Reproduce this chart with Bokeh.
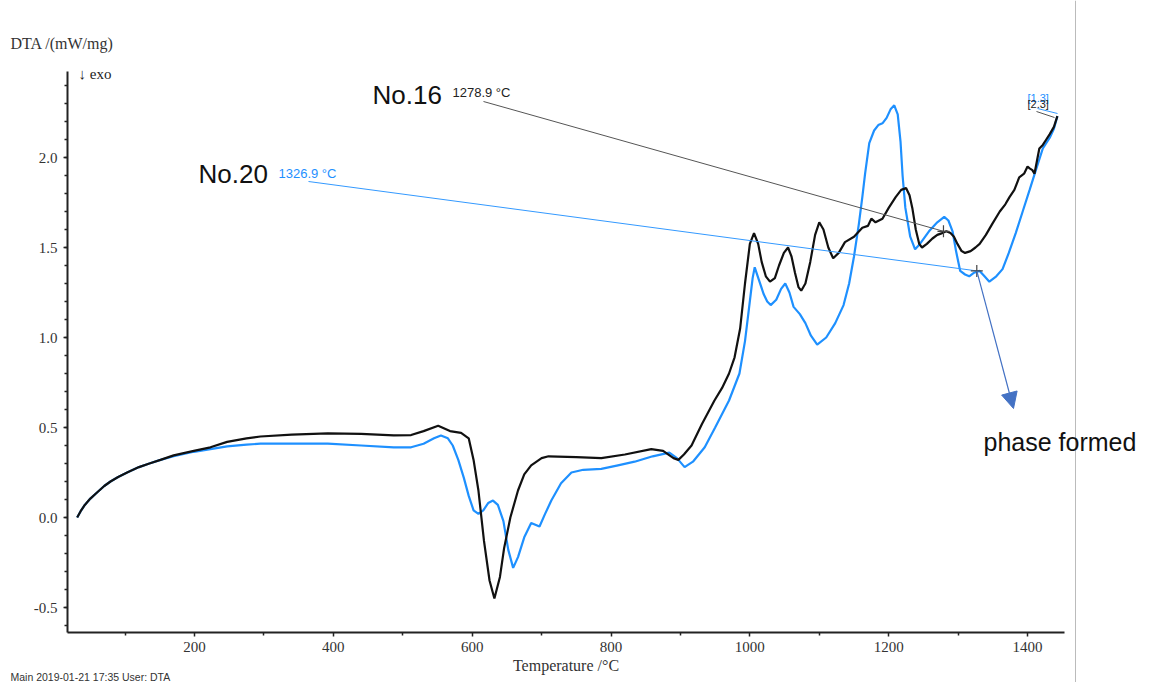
from bokeh.plotting import figure
from bokeh.models import (Range1d, Label, Arrow, NormalHead, FixedTicker, Span,
                          PrintfTickFormatter)
from bokeh.embed import file_html
from bokeh.resources import INLINE

t16 = [31, 36, 42, 50, 60, 70, 79, 90, 103, 120, 135, 151, 170, 199, 223, 247, 275, 295, 340,
       392, 440, 487, 512, 530, 551, 568, 584,
       595, 602, 609, 617, 625, 632, 640, 646, 655, 666, 675, 685, 700, 710, 750, 786, 820, 858,
       875, 890, 897, 905, 916, 931, 949, 960, 970, 978, 986, 993, 1000, 1006, 1012, 1017, 1023,
       1029, 1036, 1042, 1049, 1055, 1060, 1065, 1070, 1074, 1080, 1087, 1094, 1100, 1106, 1113,
       1120, 1128, 1137, 1150, 1162, 1170, 1175, 1181, 1191, 1200, 1210, 1218, 1225, 1230, 1234,
       1239, 1244, 1248, 1255, 1263, 1270, 1277, 1283, 1289, 1294, 1299, 1305, 1310, 1318, 1325,
       1331, 1340, 1349, 1360, 1368, 1374, 1381, 1388, 1395, 1400, 1403, 1407, 1410, 1414, 1417,
       1422, 1427, 1432, 1438, 1443]
dta16 = [0.00, 0.035, 0.07, 0.105, 0.14, 0.175, 0.20, 0.225, 0.25, 0.28, 0.30, 0.32, 0.345,
         0.37, 0.39, 0.42, 0.44, 0.45, 0.46, 0.467, 0.465, 0.456, 0.458,
         0.48, 0.51, 0.48, 0.47, 0.44, 0.32, 0.15, -0.13, -0.35, -0.45, -0.33, -0.17, 0.00, 0.15,
         0.24, 0.29, 0.33, 0.34, 0.335, 0.33, 0.35, 0.38, 0.37, 0.33, 0.32, 0.35, 0.40, 0.52, 0.65,
         0.72, 0.80, 0.89, 1.05, 1.30, 1.52, 1.58, 1.52, 1.42, 1.34, 1.31, 1.33, 1.40, 1.47, 1.50,
         1.45, 1.36, 1.28, 1.26, 1.30, 1.42, 1.57, 1.64, 1.60, 1.50, 1.44, 1.47, 1.53, 1.56, 1.61,
         1.62, 1.66, 1.64, 1.66, 1.72, 1.78, 1.82, 1.83, 1.79, 1.72, 1.60, 1.52, 1.50, 1.52, 1.55,
         1.57, 1.58, 1.59, 1.58, 1.56, 1.52, 1.48, 1.47, 1.48, 1.50, 1.52, 1.57, 1.63, 1.70, 1.74,
         1.78, 1.82, 1.89, 1.91, 1.95, 1.94, 1.93, 1.91, 1.99, 2.05, 2.07, 2.10, 2.13, 2.17, 2.23]

t20 = [31, 36, 42, 50, 60, 70, 79, 90, 103, 120, 135, 151, 170, 199, 223, 247, 275, 295, 340,
       392, 440, 487, 512, 530, 545, 555, 565,
       572, 580, 588, 595, 602, 609, 616, 623, 630, 637, 645, 652, 659, 666, 675, 685, 691, 697,
       705, 714, 728, 743, 760, 786, 810, 834, 860, 884, 895, 906, 918, 935, 950, 970, 985, 993,
       999, 1004, 1007, 1013, 1020, 1025, 1030, 1038, 1045, 1051, 1057, 1063, 1072, 1080, 1088,
       1097, 1110, 1123, 1135, 1143, 1150, 1157, 1162, 1166, 1172, 1179, 1185, 1191, 1197, 1203,
       1208, 1213, 1217, 1220, 1224, 1231, 1238, 1245, 1258, 1270, 1280, 1286, 1292, 1297, 1303,
       1310, 1316, 1323, 1331, 1338, 1345, 1355, 1364, 1373, 1383, 1393, 1403, 1412, 1422, 1432,
       1438, 1443]
dta20 = [0.00, 0.035, 0.07, 0.105, 0.14, 0.175, 0.20, 0.225, 0.25, 0.28, 0.30, 0.32, 0.34,
         0.365, 0.38, 0.395, 0.405, 0.41, 0.41, 0.41, 0.40, 0.39, 0.39,
         0.41, 0.44, 0.456, 0.44, 0.40, 0.32, 0.22, 0.12, 0.04, 0.02, 0.04, 0.08, 0.094, 0.07,
         -0.02, -0.18, -0.28, -0.22, -0.11, -0.03, -0.04, -0.05, 0.02, 0.094, 0.19, 0.25, 0.265,
         0.27, 0.29, 0.31, 0.34, 0.36, 0.33, 0.28, 0.31, 0.39, 0.50, 0.65, 0.80, 0.98, 1.17, 1.33,
         1.39, 1.32, 1.24, 1.20, 1.18, 1.21, 1.27, 1.30, 1.25, 1.17, 1.13, 1.08, 1.01, 0.96, 1.00,
         1.08, 1.18, 1.30, 1.45, 1.63, 1.78, 1.91, 2.08, 2.15, 2.18, 2.19, 2.22, 2.27, 2.29, 2.24,
         2.09, 1.90, 1.72, 1.56, 1.49, 1.52, 1.59, 1.64, 1.67, 1.65, 1.59, 1.48, 1.37, 1.35, 1.34,
         1.36, 1.37, 1.34, 1.31, 1.34, 1.38, 1.47, 1.58, 1.70, 1.82, 1.93, 2.05, 2.11, 2.16, 2.23]

x_ticks = [200, 400, 600, 800, 1000, 1200, 1400]
x_minor = [100, 300, 500, 700, 900, 1100, 1300]
y_ticks = [-0.5, 0.0, 0.5, 1.0, 1.5, 2.0]
x_axis_span = (17, 1453)
y_axis_span = (-0.64, 2.48)
peak16 = (1278.9, 1.59)
peak20 = (1326.9, 1.37)

# page-pixel helpers (annotation placement only)
def px_x(px):
    return 200 + (px - 194) / 0.6942

def px_y(py):
    return (517 - py) / 180.0

W, H = 1150, 682
p = figure(width=W, height=H, output_backend="svg", toolbar_location=None,
           x_range=Range1d(px_x(0), px_x(W)), y_range=Range1d(px_y(H), px_y(0)),
           min_border_left=0, min_border_right=0, min_border_top=0, min_border_bottom=0)
p.outline_line_color = None
p.xgrid.visible = False
p.ygrid.visible = False
p.background_fill_color = "white"
p.border_fill_color = "white"

SERIF = "Liberation Serif"
SANS = "Liberation Sans"

xa, ya = p.xaxis[0], p.yaxis[0]
xa.fixed_location = y_axis_span[0]
ya.fixed_location = x_axis_span[0]
xa.bounds = x_axis_span
ya.bounds = y_axis_span
for ax in (xa, ya):
    ax.axis_line_color = "#222222"
    ax.axis_line_width = 2
    ax.major_tick_line_color = "#222222"
    ax.minor_tick_line_color = "#222222"
    ax.major_tick_line_width = 1.5
    ax.minor_tick_line_width = 1.5
    ax.major_tick_in = 0
    ax.minor_tick_in = 0
    ax.major_tick_out = 4
    ax.minor_tick_out = 3
    ax.major_label_text_font = SERIF
    ax.major_label_text_font_size = "15px"
    ax.major_label_text_color = "#333333"

xa.ticker = FixedTicker(ticks=x_ticks, minor_ticks=x_minor)
ya.ticker = FixedTicker(ticks=y_ticks, minor_ticks=[round(-0.6 + 0.1 * i, 1) for i in range(31)])
ya.formatter = PrintfTickFormatter(format="%.1f")
xa.major_label_standoff = 5
ya.major_label_standoff = 6
xa.axis_label = "Temperature /°C"
xa.axis_label_text_font = SERIF
xa.axis_label_text_font_size = "16px"
xa.axis_label_text_font_style = "normal"
xa.axis_label_text_color = "#333333"
xa.axis_label_standoff = 2

# right-hand gray frame line
p.add_layout(Span(location=px_x(1075), dimension="height", line_color="#BBBBBB", line_width=1))

# curves
p.line(t20, dta20, line_color="#1E90FF", line_width=2.2)
p.line(t16, dta16, line_color="#111111", line_width=2.2)

# annotation leader lines
p.line([px_x(483), peak16[0]], [px_y(101), peak16[1]], line_color="#555555", line_width=1)
p.line([px_x(308), peak20[0]], [px_y(181), peak20[1]], line_color="#3399FF", line_width=1)
p.scatter([peak16[0], peak20[0]], [peak16[1], peak20[1]], marker="cross", size=12,
          line_color="#444444", line_width=1.2)

# small end markers
p.line([px_x(1037), px_x(1057)], [px_y(108), px_y(113)], line_color="#3399FF", line_width=1)
p.line([px_x(1036), px_x(1054)], [px_y(111), px_y(117)], line_color="#555555", line_width=1)

# arrow
p.add_layout(Arrow(end=NormalHead(size=16, fill_color="#4472C4", line_color="#4472C4"),
                   x_start=peak20[0], y_start=peak20[1], x_end=px_x(1013), y_end=px_y(408),
                   line_color="#4472C4", line_width=1.2))

def lab(text, px, py, font, size, color, align="left"):
    p.add_layout(Label(x=px_x(px), y=px_y(py), text=text, text_font=font,
                       text_font_size=size, text_color=color, text_align=align,
                       text_baseline="middle"))

lab("DTA /(mW/mg)", 10, 43, SERIF, "16px", "#333333")
lab("↓ exo", 78, 73, SERIF, "15px", "#222222")
lab("No.16", 372, 94, SANS, "26px", "#111111")
lab("1278.9 °C", 452, 92, SANS, "13px", "#222222")
lab("No.20", 198, 173, SANS, "26px", "#111111")
lab("1326.9 °C", 278, 173, SANS, "13px", "#1E90FF")
lab("phase formed", 983, 441, SANS, "25px", "#111111")
lab("[1.3]", 1027, 97, SANS, "11px", "#1E90FF")
lab("[2.3]", 1027, 103, SANS, "11px", "#222222")
lab("Main    2019-01-21 17:35    User: DTA", 10, 676, SANS, "10.5px", "#333333")

open("out.html", "w").write(file_html(p, INLINE))
